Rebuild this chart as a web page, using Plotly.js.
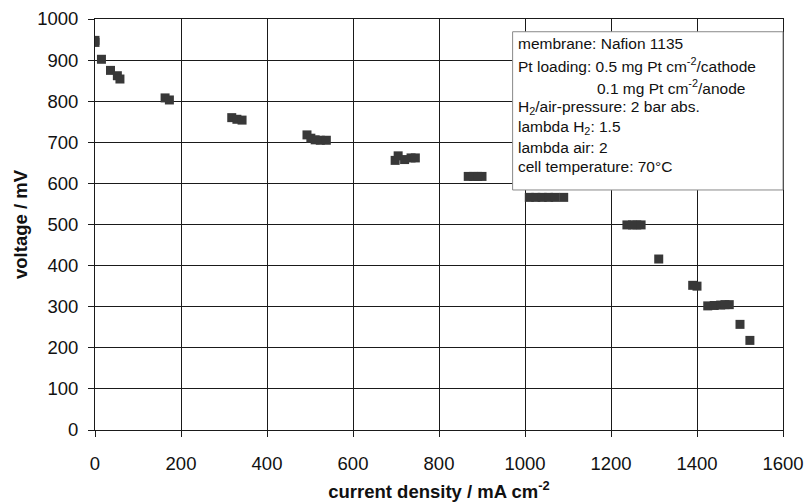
<!DOCTYPE html>
<html>
<head>
<meta charset="utf-8">
<script src="https://cdn.plot.ly/plotly-3.0.1.min.js"></script>
<style>html,body{margin:0;padding:0;background:#fff;}#chart{width:807px;height:502px;}</style>
</head>
<body>
<div id="chart"></div>
<script>
const currentDensity = [0,0,15,36,52,58,163,173,318,330,342,493,502,512,524,538,698,705,720,735,745,868,880,890,900,1010,1025,1040,1055,1070,1090,1237,1250,1260,1270,1311,1390,1400,1425,1440,1455,1465,1475,1500,1523];
const voltage = [948,943,902,875,862,854,808,803,760,756,754,718,710,706,705,705,656,667,658,662,662,617,617,617,617,566,566,566,566,566,566,499,499,499,499,416,352,350,302,303,304,305,305,257,218];
const xTicks = [0,200,400,600,800,1000,1200,1400,1600];
const yTicks = [0,100,200,300,400,500,600,700,800,900,1000];
const infoLines = [
  "membrane: Nafion 1135",
  "Pt loading: 0.5 mg Pt cm<sup>-2</sup>/cathode",
  "0.1 mg Pt cm<sup>-2</sup>/anode",
  "H<sub>2</sub>/air-pressure: 2 bar abs.",
  "lambda H<sub>2</sub>: 1.5",
  "lambda air: 2",
  "cell temperature: 70°C"
];
const infoY = [0.941,0.888,0.834,0.785,0.736,0.687,0.641];
const infoX = [0.612,0.612,0.727,0.612,0.612,0.612,0.612];

const font = "Arial, 'Liberation Sans', Helvetica, sans-serif";
const annotations = infoLines.map((t,i)=>({
  text:t, xref:'paper', yref:'paper', x:infoX[i], y:infoY[i],
  xanchor:'left', yanchor:'middle', showarrow:false,
  font:{family:font,size:15.5,color:'#111'}
}));

const trace = {
  x: currentDensity, y: voltage, type:'scatter', mode:'markers',
  marker:{symbol:'square', size:9, color:'#383838'},
  hoverinfo:'skip', showlegend:false
};

const layout = {
  width:807, height:502,
  margin:{l:95, r:24, t:19, b:72},
  paper_bgcolor:'#fff', plot_bgcolor:'#fff',
  font:{family:font, color:'#111'},
  xaxis:{
    range:[0,1600], tickvals:xTicks, ticktext:xTicks.map(String),
    showgrid:true, gridcolor:'#1a1a1a', gridwidth:1,
    showline:true, linecolor:'#1a1a1a', linewidth:1, mirror:true,
    zeroline:false, ticks:'outside', ticklen:6, tickcolor:'#1a1a1a',
    ticklabelstandoff:11,
    tickfont:{family:font,size:18.5,color:'#111'},
    title:{text:'current density / mA cm<sup>-2</sup>', font:{family:font,size:18.5,color:'#111',weight:'bold'}, standoff:12}
  },
  yaxis:{
    range:[0,1000], tickvals:yTicks, ticktext:yTicks.map(String),
    showgrid:true, gridcolor:'#1a1a1a', gridwidth:1,
    showline:true, linecolor:'#1a1a1a', linewidth:1, mirror:true,
    zeroline:false, ticks:'outside', ticklen:6, tickcolor:'#1a1a1a',
    ticklabelstandoff:6,
    tickfont:{family:font,size:18.5,color:'#111'},
    title:{text:'voltage / mV', font:{family:font,size:18.5,color:'#111',weight:'bold'}, standoff:4}
  },
  shapes:[{
    type:'rect', xref:'paper', yref:'paper', x0:0.607, x1:1.0, y0:0.584, y1:0.969,
    fillcolor:'#fff', line:{color:'#888', width:1}, layer:'above'
  }],
  annotations: annotations
};

Plotly.newPlot('chart',[trace],layout,{displayModeBar:false, staticPlot:true});
</script>
</body>
</html>
